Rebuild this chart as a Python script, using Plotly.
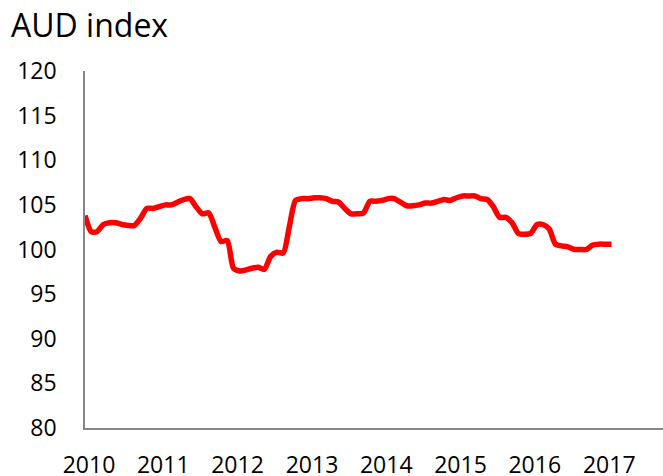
import pandas as pd
import plotly.graph_objects as go

# Monthly AUD index, Jan 2010 onward
aud_index = [
    103.8, 102.0, 102.0, 102.8, 103.0, 103.0, 102.8, 102.7, 102.7, 103.5,
    104.6, 104.6, 104.8, 105.0, 105.0, 105.3, 105.6, 105.7, 104.8, 104.0,
    104.1, 102.5, 100.9, 101.0, 97.9, 97.6, 97.7, 97.9, 98.0, 97.8,
    99.2, 99.7, 99.6, 102.5, 105.5, 105.7, 105.7, 105.8, 105.8, 105.7,
    105.4, 105.3, 104.6, 104.0, 104.0, 104.1, 105.4, 105.4, 105.5, 105.7,
    105.7, 105.3, 104.9, 104.9, 105.0, 105.2, 105.2, 105.4, 105.6, 105.5,
    105.8, 106.0, 106.0, 106.0, 105.7, 105.6, 104.8, 103.6, 103.6, 103.0,
    101.8, 101.7, 101.8, 102.8, 102.8, 102.3, 100.6, 100.4, 100.3, 100.0,
    100.0, 100.0, 100.5, 100.6, 100.6, 100.6,
]
start_month = "2010-01-01"
months = pd.date_range(start_month, periods=len(aud_index), freq="MS")

year_ticks = ["2010-01-01", "2011-01-01", "2012-01-01", "2013-01-01",
              "2014-01-01", "2015-01-01", "2016-01-01", "2017-01-01"]
year_labels = ["2010", "2011", "2012", "2013", "2014", "2015", "2016", "2017"]
y_ticks = [80, 85, 90, 95, 100, 105, 110, 115, 120]

FONT = "Open Sans"

fig = go.Figure()
fig.add_trace(go.Scatter(
    x=months, y=aud_index, mode="lines",
    line=dict(color="#FF0000", width=5.5, shape="spline", smoothing=0.7),
    hoverinfo="skip", showlegend=False,
))

fig.update_layout(
    width=663, height=476,
    margin=dict(l=85, r=0, t=71, b=48, autoexpand=False),
    paper_bgcolor="white", plot_bgcolor="white",
    font=dict(family=FONT, size=23, color="black"),
    title=dict(text="AUD index", xref="container", yref="container",
               x=11 / 663, xanchor="left", y=1 - 26 / 476, yanchor="middle",
               font=dict(family=FONT, size=32, color="black")),
)
fig.update_xaxes(
    type="date", automargin=False,
    range=["2010-01-01", "2017-10-12"],
    tickmode="array", tickvals=year_ticks, ticktext=year_labels,
    showgrid=False, zeroline=False,
    showline=True, linecolor="#868686", linewidth=1.5,
    ticks="", ticklabelstandoff=16, ticklabelshift=4,
)
fig.update_yaxes(
    range=[80, 120], automargin=False,
    tickmode="array", tickvals=y_ticks,
    showgrid=False, zeroline=False,
    showline=True, linecolor="#868686", linewidth=1.5,
    ticks="", ticklabelstandoff=22,
)

fig.write_html("out.html",
               config={"displayModeBar": False},
               post_script="document.body.style.margin='0';document.body.style.overflow='hidden';")
